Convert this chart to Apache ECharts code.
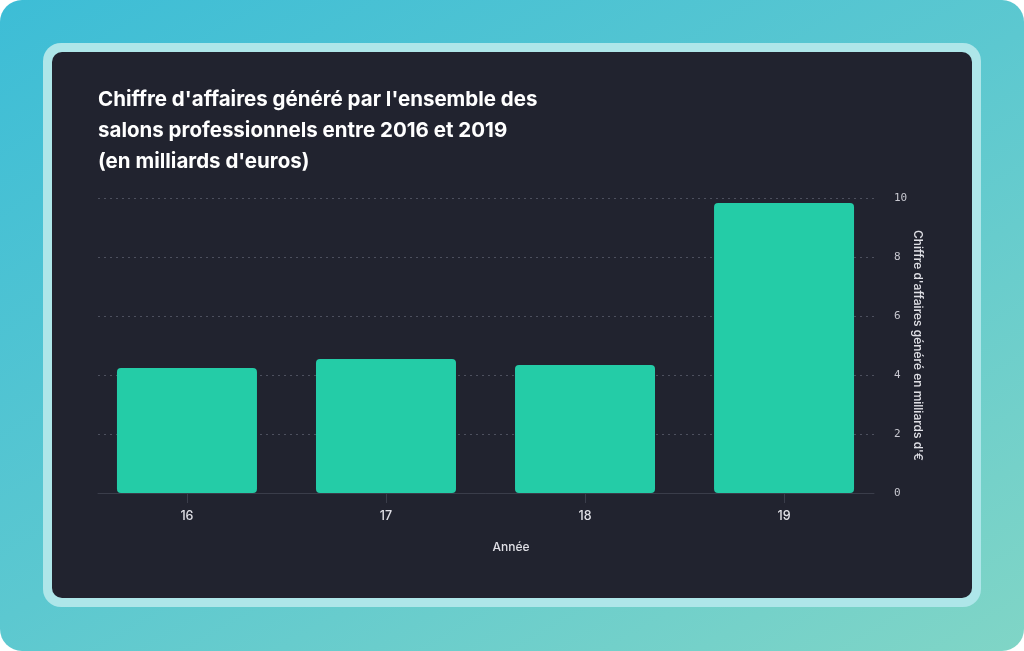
<!DOCTYPE html>
<html><head><meta charset="utf-8">
<script src="https://cdn.jsdelivr.net/npm/echarts@6/dist/echarts.min.js"></script>
<style>
html,body{margin:0;padding:0;width:1024px;height:651px;background:#fff;overflow:hidden}
#bg{position:absolute;left:0;top:0;width:1024px;height:651px;border-radius:22px;background:linear-gradient(150deg,#3dbdd6 0%,#5cc8d0 50%,#80d5c6 100%)}
#frame{position:absolute;left:43px;top:43px;width:938px;height:564px;border-radius:18px;background:#aee6e9}
#card{position:absolute;left:52px;top:52px;width:920px;height:546px;border-radius:10px;background:#21232f}
#chart{position:absolute;left:0;top:0;width:1024px;height:651px}
</style></head>
<body>
<div id="bg"></div><div id="frame"></div><div id="card"></div>
<div id="chart"></div>
<script>
const categories = ['16', '17', '18', '19'];
const values = [4.24, 4.54, 4.34, 9.83];
const yTicks = [0, 2, 4, 6, 8, 10];
const titleText = "Chiffre d'affaires généré par l'ensemble des\nsalons professionnels entre 2016 et 2019\n(en milliards d'euros)";
const yName = "Chiffre d'affaires généré en milliards d'€";
const xName = 'Année';

const xs = categories.map(Number);
const chart = echarts.init(document.getElementById('chart'), null, {renderer: 'canvas'});
chart.setOption({
  backgroundColor: 'transparent',
  animation: false,
  title: {
    text: titleText, left: 93, top: 79,
    textStyle: {color: '#ffffff', fontFamily: 'Inter', fontWeight: 'bold', fontSize: 20.5, lineHeight: 31}
  },
  grid: {left: 98, right: 150, top: 198, bottom: 158},
  xAxis: {
    type: 'value', min: 15.553, max: 19.452,
    name: xName, nameLocation: 'middle', nameGap: 48,
    nameTextStyle: {color: '#e0e0e6', fontFamily: 'Inter', fontSize: 12, fontWeight: 500, padding: [0, 0, 0, 50]},
    axisLine: {show: true, onZero: false, lineStyle: {color: '#3a3d4a', width: 1}},
    axisTick: {show: true, customValues: xs, length: 10, lineStyle: {color: '#3a3d4a'}},
    axisLabel: {customValues: xs, color: '#e0e0e6', fontFamily: 'Inter', fontSize: 12.5, fontWeight: 500, margin: 17,
      formatter: v => categories[xs.indexOf(Math.round(v))] || ''},
    splitLine: {show: false}
  },
  yAxis: {
    type: 'value', position: 'right', min: 0, max: 10, interval: 2,
    name: yName, nameLocation: 'middle', nameRotate: -90, nameGap: 38, nameMoveOverlap: false,
    nameTextStyle: {color: '#e0e0e6', fontFamily: 'Inter', fontSize: 12, fontWeight: 500},
    axisLine: {show: false}, axisTick: {show: false},
    axisLabel: {color: '#c8c8d0', fontFamily: 'DejaVu Sans Mono', fontSize: 11, margin: 20,
      formatter: v => yTicks.includes(v) ? String(v) : ''},
    splitLine: {show: true, lineStyle: {color: '#4d505e', type: [2, 4], width: 1}}
  },
  series: [{
    type: 'bar', barWidth: 140,
    data: xs.map((x, i) => [x, values[i]]),
    itemStyle: {color: '#24cca7', borderRadius: 4}
  }]
});
</script>
</body></html>
